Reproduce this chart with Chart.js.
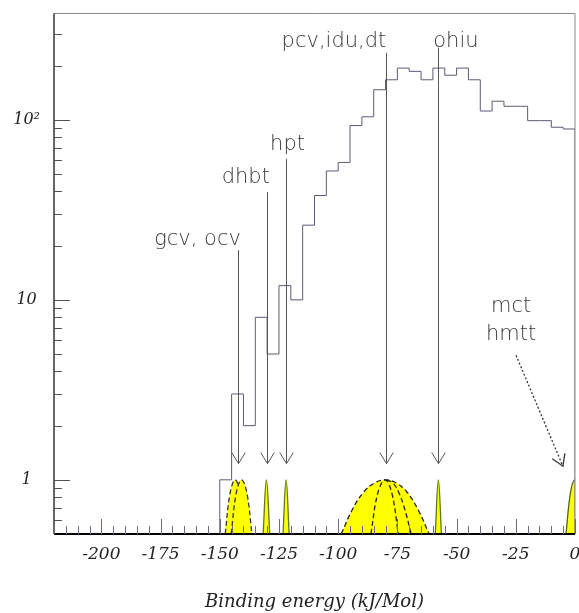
<!DOCTYPE html>
<html>
<head>
<meta charset="utf-8">
<script src="https://cdn.jsdelivr.net/npm/chart.js@4.4.0/dist/chart.umd.min.js"></script>
<style>
  html, body { margin: 0; padding: 0; background: #fff; }
  #wrap { width: 579px; height: 613px; }
</style>
</head>
<body>
<div id="wrap"><canvas id="bindingChart" width="579" height="613"></canvas></div>
<script>
// histogram: left edge of each 5 kJ/Mol bin and its count
var binStarts = [-150, -145, -140, -135, -130, -125, -120, -115, -110, -105,
                 -100, -95, -90, -85, -80, -75, -70, -65, -60, -55,
                 -50, -45, -40, -35, -30, -25, -20, -15, -10, -5];
var binCounts = [1, 3, 2, 8, 5, 12, 10, 26, 38, 52,
                 58, 93, 104, 147, 167, 194, 186, 167, 194, 177,
                 194, 167, 112, 127, 119, 119, 99, 99, 91, 89];

// yellow peaks (x positions) and their heights
var peakGcvX  = [-147.7, -145.6, -143.5, -141.4, -139.3];
var peakOcvX  = [-145.2, -143.0, -140.8, -138.6, -136.4];
var peakDhbtX = [-131.7, -130.3, -128.9];
var peakHptX  = [-123.3, -122.0, -120.7];
var peakPcvX  = [-98.7, -94.1, -89.4, -84.7, -80.0, -75.4, -70.8, -66.2, -61.6];
var peakIduX  = [-86.2, -83.2, -80.2, -77.4, -74.6];
var peakDtX   = [-79.5, -76.9, -74.4, -71.8, -69.2];
var peakOhiuX = [-59.0, -57.7, -56.4];
var peakMctX  = [-3.8, -1.9, 0, 1.9, 3.8];
var peakH3 = [0.5, 1, 0.5];
var peakH5 = [0.5, 0.85, 1, 0.85, 0.5];
var peakH9 = [0.5, 0.68, 0.85, 0.96, 1, 0.96, 0.85, 0.68, 0.5];
var peakHDt = [1, 0.96, 0.85, 0.68, 0.5];

// arrows with names
var arrowNames = ['gcv, ocv', 'dhbt', 'hpt', 'pcv,idu,dt', 'ohiu'];
var arrowX     = [-142.5, -130, -122, -80, -58];
var arrowTop   = [18.9, 39.7, 60.7, 236, 251.7];
var arrowTip   = 1.23;
var nameX      = [-159.4, -139.0, -121.4, -101.8, -50.3];
var nameY      = [20.1, 44.6, 68.1, 254.9, 254.9];
// the slanted one on the right
var mctNames = ['mct', 'hmtt'];
var mctNameX = -27;
var mctNameY = [8.57, 6.02];
var mctFrom  = [-24.9, 4.92];
var mctTo    = [-5.1, 1.19];

// axis ticks
var xMin = -220, xMax = 0, xStep = 5, xMajor = 25, xFirstLabel = -200;
var yMin = 0.5, yMax = 390;

function toPoints(xs, ys) {
    return xs.map(function(x, i) { return { x: x, y: ys[i] }; });
}

// histogram outline: start at the floor, step through the bins, back to the floor
var histPoints = [{ x: binStarts[0], y: yMin }];
binStarts.forEach(function(x, i) { histPoints.push({ x: x, y: binCounts[i] }); });
histPoints.push({ x: xMax, y: binCounts[binCounts.length - 1] });
histPoints.push({ x: xMax, y: yMin });

function peak(xs, ys, line, filled, dashed) {
    return {
        data: toPoints(xs, ys),
        borderColor: line,
        borderWidth: 1.3,
        borderDash: dashed ? [5, 3] : [],
        backgroundColor: '#ffff00',
        fill: filled ? 'start' : false,
        tension: 0.4,
        pointRadius: 0
    };
}

var datasets = [
    {
        data: histPoints,
        stepped: true,
        borderColor: '#5a5a78',
        borderWidth: 1,
        pointRadius: 0,
        fill: false
    },
    peak(peakIduX, peakH5, '#222', false, true),
    peak(peakDtX, peakHDt, '#222', false, true),
    peak(peakPcvX, peakH9, '#222', true, true),
    peak(peakOcvX, peakH5, '#333', true, true),
    peak(peakGcvX, peakH5, '#333', true, true),
    peak(peakDhbtX, peakH3, '#5c7a1a', true, false),
    peak(peakHptX, peakH3, '#5c7a1a', true, false),
    peak(peakOhiuX, peakH3, '#5c7a1a', true, false),
    peak(peakMctX, peakH5, '#4a6a10', true, false)
];

function arrowHead(ctx, x, y, angle) {
    // open V head, angle = direction the arrow points
    var len = 13, spread = 0.55;
    ctx.beginPath();
    ctx.moveTo(x - len * Math.cos(angle - spread), y - len * Math.sin(angle - spread));
    ctx.lineTo(x, y);
    ctx.lineTo(x - len * Math.cos(angle + spread), y - len * Math.sin(angle + spread));
    ctx.stroke();
}

var framePlugin = {
    id: 'frameAndMarks',
    afterDatasetsDraw: function(chart) {
        var ctx = chart.ctx;
        var area = chart.chartArea;
        var xs = chart.scales.x;
        var ys = chart.scales.y;
        ctx.save();

        // box round the plot
        ctx.strokeStyle = '#8a8a8a';
        ctx.lineWidth = 1;
        ctx.beginPath();
        ctx.moveTo(area.left, area.top);
        ctx.lineTo(area.right, area.top);
        ctx.lineTo(area.right, area.bottom);
        ctx.stroke();
        ctx.strokeStyle = '#333';
        ctx.lineWidth = 1.5;
        ctx.beginPath();
        ctx.moveTo(area.left, area.top);
        ctx.lineTo(area.left, area.bottom);
        ctx.stroke();
        ctx.strokeStyle = '#000';
        ctx.lineWidth = 2;
        ctx.beginPath();
        ctx.moveTo(area.left, area.bottom);
        ctx.lineTo(area.right, area.bottom);
        ctx.stroke();

        // x ticks point up into the plot
        ctx.strokeStyle = '#6a6a8a';
        ctx.lineWidth = 1;
        xs.ticks.forEach(function(t) {
            var px = Math.round(xs.getPixelForValue(t.value)) + 0.5;
            var len = (t.value % xMajor === 0) ? 15 : 8;
            ctx.beginPath();
            ctx.moveTo(px, area.bottom);
            ctx.lineTo(px, area.bottom - len);
            ctx.stroke();
        });

        // y ticks only on 1..9 x 10^n
        ctx.strokeStyle = '#555';
        ys.ticks.forEach(function(t) {
            var v = t.value;
            var m = v / Math.pow(10, Math.floor(Math.log10(v) + 1e-9));
            if (Math.abs(m - Math.round(m)) > 1e-6 || v <= yMin) return;
            var py = Math.round(ys.getPixelForValue(v)) + 0.5;
            var len = Math.round(m) === 1 ? 16 : 8;
            ctx.beginPath();
            ctx.moveTo(area.left, py);
            ctx.lineTo(area.left + len, py);
            ctx.stroke();
        });

        // arrows and names
        ctx.strokeStyle = '#555';
        ctx.fillStyle = '#3a3a3a';
        ctx.lineWidth = 1;
        ctx.font = "200 21px 'DejaVu Sans'";
        ctx.textAlign = 'center';
        ctx.textBaseline = 'alphabetic';
        arrowNames.forEach(function(name, i) {
            var px = Math.round(xs.getPixelForValue(arrowX[i])) + 0.5;
            var top = ys.getPixelForValue(arrowTop[i]);
            var tip = ys.getPixelForValue(arrowTip);
            ctx.beginPath();
            ctx.moveTo(px, top);
            ctx.lineTo(px, tip);
            ctx.stroke();
            arrowHead(ctx, px, tip, Math.PI / 2);
            ctx.fillText(name, xs.getPixelForValue(nameX[i]), ys.getPixelForValue(nameY[i]));
        });

        mctNames.forEach(function(name, i) {
            ctx.fillText(name, xs.getPixelForValue(mctNameX), ys.getPixelForValue(mctNameY[i]));
        });
        var x0 = xs.getPixelForValue(mctFrom[0]), y0 = ys.getPixelForValue(mctFrom[1]);
        var x1 = xs.getPixelForValue(mctTo[0]), y1 = ys.getPixelForValue(mctTo[1]);
        ctx.strokeStyle = '#333';
        ctx.lineWidth = 1.3;
        ctx.setLineDash([2, 2]);
        ctx.beginPath();
        ctx.moveTo(x0, y0);
        ctx.lineTo(x1, y1);
        ctx.stroke();
        ctx.setLineDash([]);
        arrowHead(ctx, x1, y1, Math.atan2(y1 - y0, x1 - x0));

        ctx.restore();
    }
};

var serif = "'DejaVu Serif', 'Liberation Serif', serif";

var ctx = document.getElementById('bindingChart').getContext('2d');
var chart = new Chart(ctx, {
    type: 'line',
    data: { datasets: datasets },
    options: {
        responsive: false,
        animation: false,
        layout: { padding: { top: 13.5, right: 4, left: 0, bottom: 0 } },
        plugins: {
            legend: { display: false },
            tooltip: { enabled: false }
        },
        scales: {
            x: {
                type: 'linear',
                min: xMin,
                max: xMax,
                grid: { display: false, drawTicks: false },
                border: { display: false },
                ticks: {
                    stepSize: xStep,
                    autoSkip: false,
                    maxRotation: 0,
                    padding: 10,
                    color: '#222',
                    font: { family: serif, style: 'italic', size: 17 },
                    callback: function(v) {
                        return (v % xMajor === 0 && v >= xFirstLabel) ? String(v) : '';
                    }
                },
                title: {
                    display: true,
                    text: 'Binding energy (kJ/Mol)',
                    color: '#222',
                    font: { family: serif, style: 'italic', size: 18 },
                    padding: { top: 0, bottom: 0 }
                },
                afterFit: function(scale) {
                    scale.height = 79;
                    scale.paddingLeft = 0;
                    scale.paddingRight = 0;
                }
            },
            y: {
                type: 'logarithmic',
                min: yMin,
                max: yMax,
                grid: { display: false, drawTicks: false },
                border: { display: false },
                ticks: {
                    autoSkip: false,
                    crossAlign: 'center',
                    padding: 14,
                    color: '#222',
                    font: { family: serif, style: 'italic', size: 16 },
                    callback: function(v) {
                        if (v === 1) return '1';
                        if (v === 10) return '10';
                        if (v === 100) return '10\u00b2';
                        return '';
                    }
                },
                afterFit: function(scale) {
                    scale.width = 54;
                    scale.paddingTop = 0;
                    scale.paddingBottom = 0;
                }
            }
        }
    },
    plugins: [framePlugin]
});
</script>
</body>
</html>
